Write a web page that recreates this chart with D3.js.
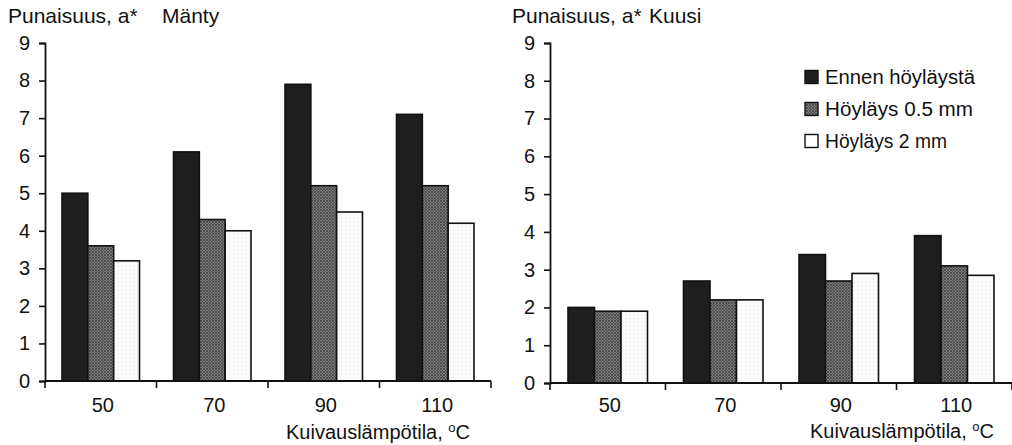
<!DOCTYPE html>
<html>
<head>
<meta charset="utf-8">
<script src="https://cdnjs.cloudflare.com/ajax/libs/d3/7.8.5/d3.min.js"></script>
<style>
  body { margin: 0; background: #fff; }
  text { font-family: "Liberation Sans", Arial, sans-serif; fill: #111; }
</style>
</head>
<body>
<script>
  var categories = ["50", "70", "90", "110"];
  var series = ["Ennen höyläystä", "Höyläys 0.5 mm", "Höyläys 2 mm"];
  var yTicks = [0, 1, 2, 3, 4, 5, 6, 7, 8, 9];

  // Mänty (pine)
  var mantyValues = [
    [5.0, 6.1, 7.9, 7.1],
    [3.6, 4.3, 5.2, 5.2],
    [3.2, 4.0, 4.5, 4.2]
  ];
  // Kuusi (spruce)
  var kuusiValues = [
    [2.0, 2.7, 3.4, 3.9],
    [1.9, 2.2, 2.7, 3.1],
    [1.9, 2.2, 2.9, 2.85]
  ];

  var fills = ["#1e1e1e", "url(#hatch)", "url(#dots)"];
  var legendWidths = [150, 148, 122];

  var svg = d3.select("body").append("svg")
      .attr("width", 1012)
      .attr("height", 445);

  var defs = svg.append("defs");
  var hatch = defs.append("pattern").attr("id", "hatch")
      .attr("width", 3).attr("height", 3).attr("patternUnits", "userSpaceOnUse");
  hatch.append("rect").attr("width", 3).attr("height", 3).attr("fill", "#7c7c7c");
  hatch.append("path").attr("d", "M0,3 L3,0 M0,0 L3,3").attr("stroke", "#444").attr("stroke-width", 0.8);
  var dots = defs.append("pattern").attr("id", "dots")
      .attr("width", 4).attr("height", 4).attr("patternUnits", "userSpaceOnUse");
  dots.append("rect").attr("width", 4).attr("height", 4).attr("fill", "#fbfbfb");
  dots.append("rect").attr("x", 1).attr("y", 2).attr("width", 1).attr("height", 1).attr("fill", "#e4e4e4");

  function panel(opts) {
    var g = svg.append("g");
    var x0 = d3.scaleBand().domain(categories).range([opts.left, opts.right]);
    var bw = x0.bandwidth();
    var x1 = d3.scaleBand().domain(series).range([opts.pad, bw - opts.pad]);
    var y = d3.scaleLinear().domain([0, 9]).range([opts.bottom, 43]);

    // bars
    series.forEach(function(s, si) {
      g.selectAll(".bar" + si)
        .data(opts.values[si])
        .enter().append("rect")
        .attr("x", function(d, i) { return x0(categories[i]) + x1(s); })
        .attr("y", function(d) { return y(d); })
        .attr("width", x1.bandwidth())
        .attr("height", function(d) { return y(0) - y(d); })
        .attr("fill", fills[si])
        .attr("stroke", "#111")
        .attr("stroke-width", 1.6);
    });

    // y axis
    var ya = g.append("g")
        .attr("transform", "translate(" + opts.left + ",0)")
        .call(d3.axisLeft(y).tickValues(yTicks).tickSize(6).tickPadding(9).tickFormat(d3.format("d")));
    ya.select(".domain").attr("stroke", "#111").attr("stroke-width", 1.8);
    ya.selectAll(".tick line").attr("stroke", "#111").attr("stroke-width", 1.6);
    ya.selectAll("text").style("font-size", "20px").attr("fill", "#111")
      .style("font-family", "'Liberation Sans', Arial, sans-serif");

    // x axis: ticks at band boundaries
    var xa = g.append("g").attr("transform", "translate(0," + opts.bottom + ")");
    xa.append("line").attr("x1", opts.left).attr("x2", opts.right)
      .attr("stroke", "#111").attr("stroke-width", 1.8);
    var bounds = categories.map(function(c) { return x0(c); }).concat([opts.right]);
    xa.selectAll(".xt").data(bounds).enter().append("line")
      .attr("x1", function(d) { return d; }).attr("x2", function(d) { return d; })
      .attr("y1", 0).attr("y2", 7)
      .attr("stroke", "#111").attr("stroke-width", 1.6);
    xa.selectAll(".xl").data(categories).enter().append("text")
      .attr("x", function(d) { return x0(d) + bw / 2 + 2; })
      .attr("y", opts.tickY)
      .attr("text-anchor", "middle")
      .style("font-size", "20px")
      .text(function(d) { return d; });

    // titles
    g.append("text").attr("x", opts.titleX).attr("y", 23)
      .style("font-size", "21px").text("Punaisuus, a*");
    g.append("text").attr("x", opts.nameX).attr("y", 23)
      .style("font-size", "21px").text(opts.name);

    var xt = g.append("text").attr("x", opts.xTitleX).attr("y", opts.xTitleY)
      .attr("text-anchor", "end").style("font-size", "20px");
    xt.append("tspan").text("Kuivauslämpötila, ");
    xt.append("tspan").attr("dy", -7).style("font-size", "13px").text("o");
    xt.append("tspan").attr("dy", 7).text("C");
  }

  panel({ left: 45, right: 491, bottom: 381, pad: 17, values: mantyValues, tickY: 31,
          name: "Mänty", titleX: 8, nameX: 162, xTitleX: 470, xTitleY: 439 });
  panel({ left: 550, right: 1012, bottom: 383, pad: 18, values: kuusiValues, tickY: 29,
          name: "Kuusi", titleX: 512, nameX: 649, xTitleX: 994, xTitleY: 438 });

  // legend
  var legend = svg.append("g");
  series.forEach(function(s, i) {
    var ly = 77 + i * 32;
    legend.append("rect").attr("x", 805).attr("y", ly - 6.5).attr("width", 13).attr("height", 13)
      .attr("fill", i === 0 ? "#1e1e1e" : (i === 1 ? "url(#hatch)" : "#fff"))
      .attr("stroke", "#111").attr("stroke-width", 1.4);
    legend.append("text").attr("x", 825).attr("y", ly + 7)
      .style("font-size", "20px")
      .attr("textLength", legendWidths[i])
      .attr("lengthAdjust", "spacingAndGlyphs")
      .text(s);
  });
</script>
</body>
</html>
